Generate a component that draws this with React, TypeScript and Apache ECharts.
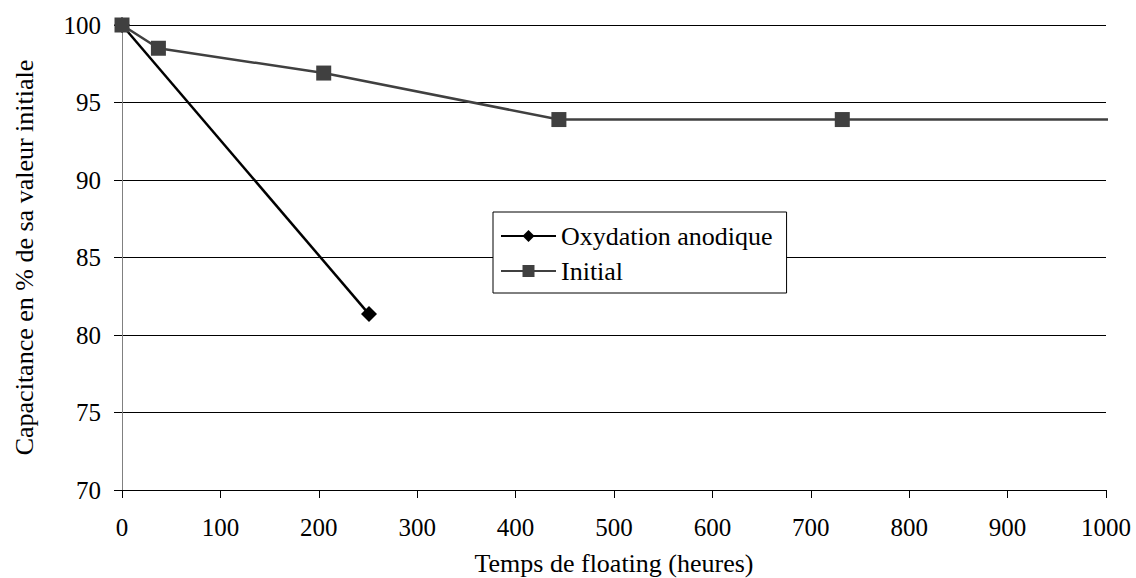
import React, { useEffect, useRef } from "react";
import * as echarts from "echarts";

const xTicks = [0, 100, 200, 300, 400, 500, 600, 700, 800, 900, 1000];
const oxydationX = [0, 251];
const oxydationY = [100, 81.35];
const initialX = [0, 37, 205, 444, 732, 1007];
const initialY = [100, 98.5, 96.9, 93.9, 93.9, 93.9];
const initialShowMarker = [true, true, true, true, true, false];

const FONT = "Liberation Serif";
const TICK_FS = 25;
const TITLE_FS = 26;

export default function App() {
  const ref = useRef<HTMLDivElement>(null);
  useEffect(() => {
    if (!ref.current) return;
    const chart = echarts.init(ref.current, undefined, { renderer: "svg" });
    chart.setOption({
      animation: false,
      backgroundColor: "#ffffff",
      textStyle: { fontFamily: FONT },
      grid: {
        left: 122,
        right: 30,
        top: 25,
        bottom: 88,
        containLabel: false,
        outerBoundsMode: "none",
      },
      legend: {
        orient: "vertical",
        left: 493,
        top: 212,
        backgroundColor: "#ffffff",
        borderColor: "#000000",
        borderWidth: 1,
        padding: [11, 14, 9, 7],
        itemGap: 9,
        itemWidth: 55,
        itemHeight: 15,
        textStyle: { fontFamily: FONT, fontSize: TITLE_FS, color: "#000000" },
        data: ["Oxydation anodique", "Initial"],
      },
      xAxis: {
        type: "value",
        min: 0,
        max: 1000,
        interval: 100,
        name: "Temps de floating (heures)",
        nameLocation: "middle",
        nameGap: 60,
        nameTextStyle: { fontFamily: FONT, fontSize: TITLE_FS, color: "#000000" },
        axisLine: { show: true, onZero: false, lineStyle: { color: "#000000", width: 1 } },
        axisTick: { show: true, length: 8, lineStyle: { color: "#000000" } },
        axisLabel: {
          fontFamily: FONT,
          fontSize: TICK_FS,
          color: "#000000",
          margin: 25,
          formatter: (v: number) => (xTicks.includes(v) ? String(v) : ""),
        },
        splitLine: { show: false },
      },
      yAxis: {
        type: "value",
        min: 70,
        max: 100,
        interval: 5,
        name: "Capacitance en % de sa valeur initiale",
        nameLocation: "middle",
        nameGap: 85,
        nameTextStyle: { fontFamily: FONT, fontSize: TITLE_FS, color: "#000000" },
        axisLine: { show: true, lineStyle: { color: "#808080", width: 1 } },
        axisTick: { show: true, length: 8, lineStyle: { color: "#000000" } },
        axisLabel: { fontFamily: FONT, fontSize: TICK_FS, color: "#000000", margin: 21 },
        splitLine: { show: true, lineStyle: { color: "#000000", width: 1 } },
      },
      series: [
        {
          name: "Oxydation anodique",
          type: "line",
          data: oxydationX.map((x, i) => [x, oxydationY[i]]),
          symbol: "diamond",
          symbolSize: 16,
          itemStyle: { color: "#000000" },
          lineStyle: { color: "#000000", width: 2.5 },
          z: 3,
        },
        {
          name: "Initial",
          type: "line",
          clip: false,
          data: initialX.map((x, i) => ({
            value: [x, initialY[i]],
            symbol: initialShowMarker[i] ? "rect" : "none",
          })),
          symbol: "rect",
          symbolSize: 15,
          itemStyle: { color: "#404040" },
          lineStyle: { color: "#404040", width: 2.5 },
          z: 4,
        },
      ],
    });
    return () => chart.dispose();
  }, []);
  return (
    <div
      ref={ref}
      style={{ position: "fixed", left: 0, top: 0, width: 1136, height: 578 }}
    />
  );
}
